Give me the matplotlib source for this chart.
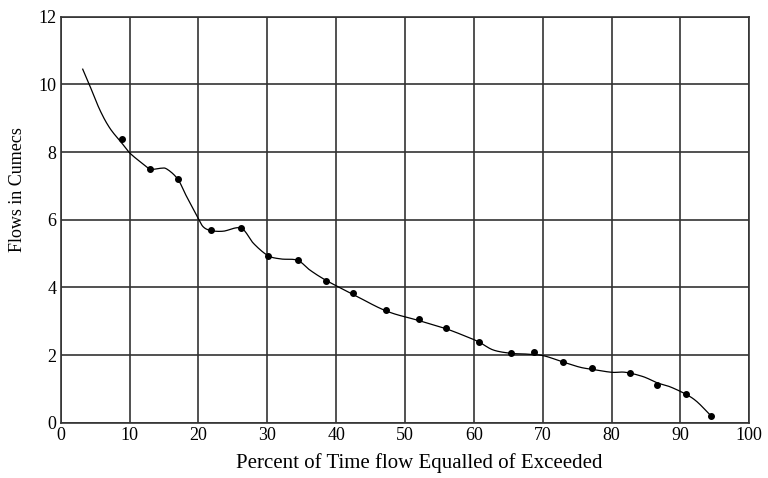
import numpy as np
import matplotlib.pyplot as plt

# Observed flows (cumecs) against percent of time equalled or exceeded
pct_time = [8.9, 12.97, 17.03, 21.8, 26.2, 30.1, 34.4, 38.6, 42.4, 47.3, 52.0,
            55.9, 60.7, 65.4, 68.7, 73.0, 77.1, 82.6, 86.6, 90.8, 94.4]
flows = [8.39, 7.49, 7.2, 5.70, 5.75, 4.94, 4.80, 4.20, 3.84, 3.32, 3.06,
         2.81, 2.39, 2.07, 2.08, 1.79, 1.62, 1.47, 1.12, 0.84, 0.21]

# Hand-drawn flow duration curve (knots along the freehand line)
curve_x = [3.2, 4.15, 5.7, 7.16, 8.9, 10.0, 11.5, 13.0, 14.4, 15.4, 17.0, 18.3,
           20.0, 20.7, 21.8, 23.6, 26.2, 28.0, 30.1, 32.0, 34.4, 36.2, 38.6,
           42.4, 47.3, 52.0, 55.9, 58.5, 60.7, 62.8, 65.4, 67.5, 70.1, 73.0,
           75.4, 77.1, 80.0, 82.0, 84.6, 86.6, 88.5, 90.8, 92.4, 94.4]
curve_y = [10.45, 10.0, 9.24, 8.70, 8.26, 7.98, 7.72, 7.5, 7.52, 7.5, 7.2, 6.68,
           6.04, 5.79, 5.68, 5.66, 5.75, 5.30, 4.94, 4.84, 4.80, 4.51, 4.20,
           3.80, 3.30, 3.02, 2.78, 2.58, 2.39, 2.15, 2.05, 2.03, 1.98, 1.79,
           1.64, 1.58, 1.49, 1.49, 1.36, 1.18, 1.06, 0.84, 0.62, 0.21]


def catmull_rom(xs, ys, n=12):
    # smooth line through the knots
    p = np.column_stack([xs, ys])
    p = np.vstack([2 * p[0] - p[1], p, 2 * p[-1] - p[-2]])
    out = []
    for i in range(1, len(p) - 2):
        p0, p1, p2, p3 = p[i - 1], p[i], p[i + 1], p[i + 2]
        t = np.linspace(0, 1, n, endpoint=False)[:, None]
        seg = 0.5 * ((2 * p1) + (-p0 + p2) * t
                     + (2 * p0 - 5 * p1 + 4 * p2 - p3) * t ** 2
                     + (-p0 + 3 * p1 - 3 * p2 + p3) * t ** 3)
        out.append(seg)
    out.append(p[-2][None, :])
    out = np.vstack(out)
    return out[:, 0], out[:, 1]


plt.rcParams['font.family'] = ['Liberation Serif', 'DejaVu Serif']

fig = plt.figure(figsize=(7.68, 4.78), dpi=100)
ax = fig.add_axes([0.079, 0.1157, 0.8967, 0.8493])

cx, cy = catmull_rom(curve_x, curve_y)
ax.plot(cx, cy, color='black', linewidth=0.9)
ax.plot(pct_time, flows, 'o', color='black', markersize=4)

ax.set_xlim(0, 100)
ax.set_ylim(0, 12)
ax.set_xticks(range(0, 101, 10))
ax.set_yticks(range(0, 13, 2))
ax.grid(True, color='#333333', linewidth=1.2)
ax.set_axisbelow(True)
for s in ax.spines.values():
    s.set_color('#333333')
    s.set_linewidth(1.2)
ax.tick_params(length=0, labelsize=13, pad=3)

ax.set_xlabel('Percent of Time flow Equalled of Exceeded', fontsize=15)
ax.set_ylabel('Flows in Cumecs', fontsize=13)
ax.xaxis.set_label_coords(0.52, -0.075)
ax.yaxis.set_label_coords(-0.05, 0.575)

fig.savefig('out.png', dpi=100)
